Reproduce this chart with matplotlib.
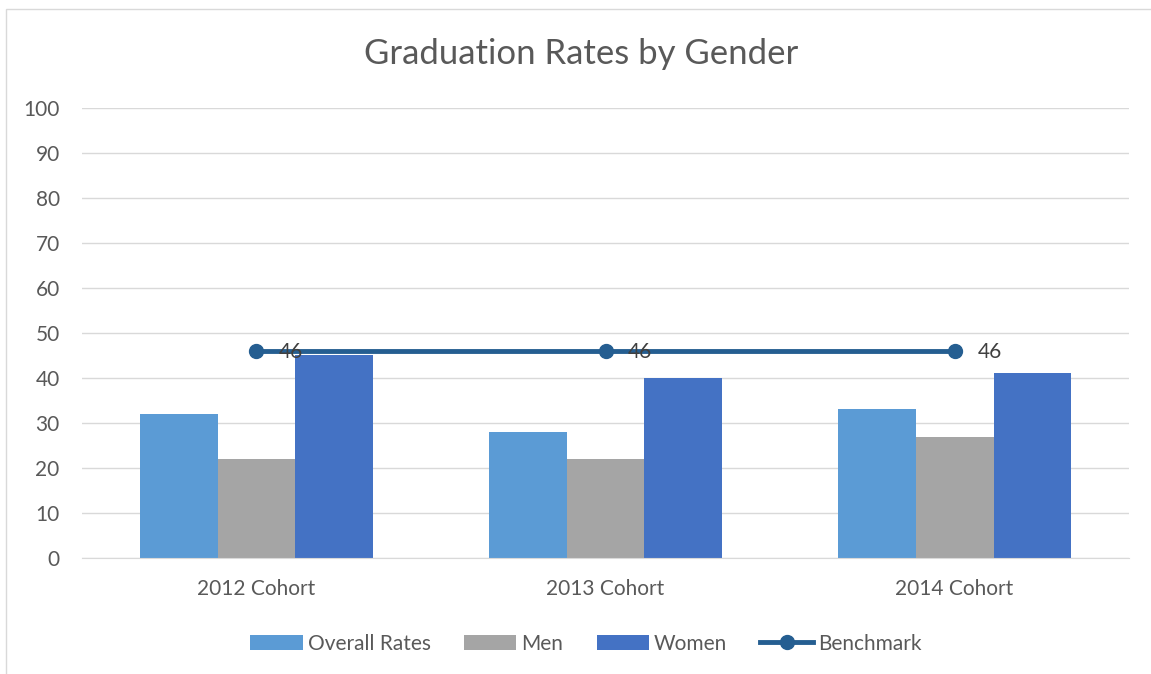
import numpy as np
import matplotlib.pyplot as plt
from matplotlib.patches import Rectangle

plt.rcParams['font.family'] = ['Lato', 'DejaVu Sans']

cohorts = ['2012 Cohort', '2013 Cohort', '2014 Cohort']
overall = [32, 28, 33]
men = [22, 22, 27]
women = [45, 40, 41]
benchmark = [46, 46, 46]

txt = '#595959'
fig = plt.figure(figsize=(11.51, 6.74), dpi=100)
fig.patches.append(Rectangle((0.005, -0.01), 1.2, 0.997, transform=fig.transFigure,
                             fill=False, edgecolor='#D9D9D9', lw=1))
ax = fig.add_axes([0.0712, 0.172, 0.9098, 0.668])

x = np.arange(len(cohorts))
w = 0.223
ax.bar(x - w, overall, w, color='#5B9BD5', label='Overall Rates', zorder=2)
ax.bar(x, men, w, color='#A5A5A5', label='Men', zorder=2)
ax.bar(x + w, women, w, color='#4472C4', label='Women', zorder=2)
ax.plot(x, benchmark, color='#255E91', lw=3.5, marker='o', markersize=10,
        label='Benchmark', zorder=3)
for xi, b in zip(x, benchmark):
    ax.text(xi + 0.065, b - 0.3, str(b), fontsize=15, color='#404040', va='center', ha='left', zorder=4)

ax.set_xlim(-0.5, 2.5)
ax.set_ylim(0, 100)
ax.set_yticks(np.arange(0, 101, 10))
ax.set_xticks(x, cohorts)
ax.grid(axis='y', color='#D9D9D9', lw=1, zorder=0)
ax.tick_params(length=0, labelsize=15, colors=txt, pad=15)
ax.tick_params(axis='y', pad=16)
for s in ax.spines.values():
    s.set_visible(False)
ax.spines['bottom'].set_visible(True)
ax.spines['bottom'].set_color('#D9D9D9')

fig.text(0.505, 0.92, 'Graduation Rates by Gender', ha='center', va='center',
         fontsize=25, color=txt)
h, l = ax.get_legend_handles_labels()
order = [1, 2, 3, 0]
fig.legend([h[i] for i in order], [l[i] for i in order], loc='center',
           bbox_to_anchor=(0.509, 0.045), ncol=4, frameon=False,
           fontsize=15, labelcolor=txt, handlelength=2.5, handleheight=0.7,
           columnspacing=1.6, handletextpad=0.25)

fig.savefig('out.png')
